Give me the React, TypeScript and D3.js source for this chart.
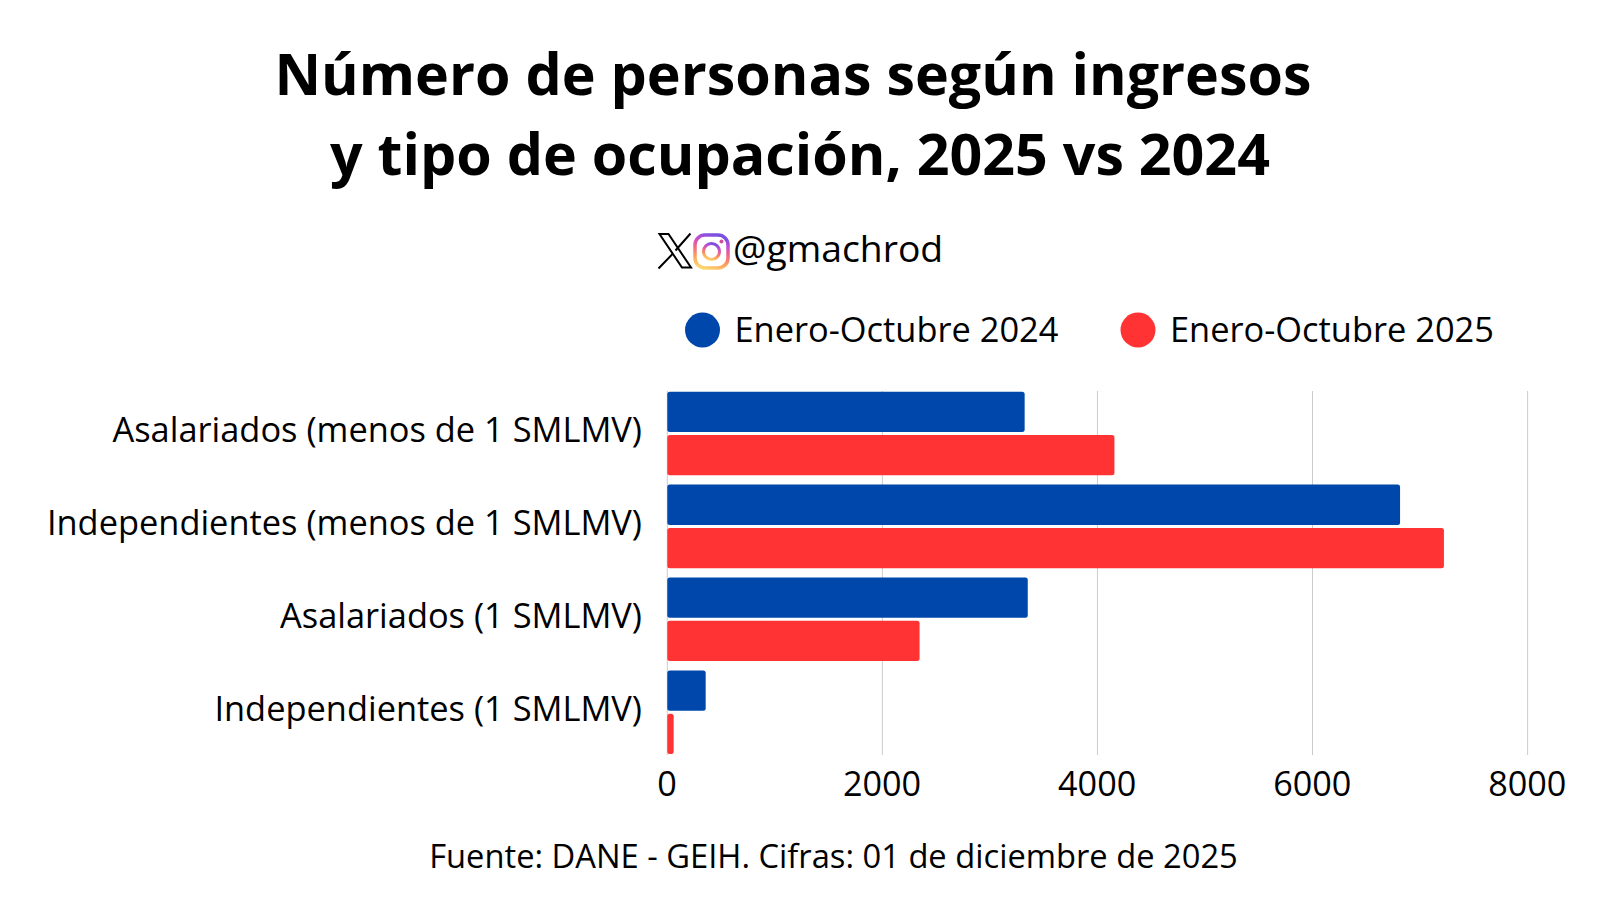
import { useEffect, useRef } from 'react';
import * as d3 from 'd3';

const categories = [
  'Asalariados (menos de 1 SMLMV)',
  'Independientes (menos de 1 SMLMV)',
  'Asalariados (1 SMLMV)',
  'Independientes (1 SMLMV)',
];
const seriesNames = ['Enero-Octubre 2024', 'Enero-Octubre 2025'];
const values2024 = [3323, 6814, 3352, 357];
const values2025 = [4158, 7222, 2346, 59];
const xTicks = [0, 2000, 4000, 6000, 8000];
const seriesColors = ['#0047AB', '#FF3333'];
const font = '"Open Sans", sans-serif';

export default function App() {
  const ref = useRef<SVGSVGElement | null>(null);
  useEffect(() => {
    const svg = d3.select(ref.current!);
    svg.selectAll('*').remove();
    svg.attr('viewBox', '0 0 1600 900').attr('font-family', font);
    svg.append('rect').attr('width', 1600).attr('height', 900).attr('fill', '#fff');

    // titulo
    const title = svg.append('g').attr('font-size', 57.35).attr('font-weight', 700).attr('fill', '#000').attr('text-anchor', 'middle');
    title.append('text').attr('x', 793).attr('y', 95).text('Número de personas según ingresos');
    title.append('text').attr('x', 800).attr('y', 175).text('y tipo de ocupación, 2025 vs 2024');

    // handle con iconos
    const defs = svg.append('defs');
    const grad = defs.append('linearGradient').attr('id', 'ig').attr('x1', '25%').attr('y1', '100%').attr('x2', '55%').attr('y2', '0%');
    [['0%', '#fdd66e'], ['30%', '#fb9a5c'], ['55%', '#f0648c'], ['80%', '#c04fd0'], ['100%', '#7b50e0']].forEach(([o, c]) => {
      grad.append('stop').attr('offset', o).attr('stop-color', c);
    });
    const xIcon = svg.append('g').attr('fill', 'none').attr('stroke', '#000').attr('stroke-width', 2);
    xIcon.append('path').attr('d', 'M659.5 234h9l22.5 33.5h-9z');
    xIcon.append('path').attr('d', 'M690.5 233.5L675.5 250.5M672.5 254L658.5 268.5');
    const ig = svg.append('g').attr('fill', 'none').attr('stroke', 'url(#ig)');
    ig.append('rect').attr('x', 695).attr('y', 235).attr('width', 33).attr('height', 33).attr('rx', 10).attr('stroke-width', 3.5);
    ig.append('circle').attr('cx', 711.5).attr('cy', 251.5).attr('r', 8).attr('stroke-width', 3);
    svg.append('circle').attr('cx', 721.5).attr('cy', 241.5).attr('r', 2).attr('fill', '#d0509c');
    svg.append('text').attr('x', 733).attr('y', 262).attr('font-size', 37.3).attr('fill', '#000').text('@gmachrod');

    // leyenda
    const legendX = [702.5, 1138];
    seriesNames.forEach((name, i) => {
      svg.append('circle').attr('cx', legendX[i]).attr('cy', 330).attr('r', 17.5).attr('fill', seriesColors[i]);
      svg.append('text').attr('x', legendX[i] + 32).attr('y', 342).attr('font-size', 34.4).attr('fill', '#000').text(name);
    });

    // escalas
    const x = d3.scaleLinear().domain([0, 8000]).range([667.3, 1527.6]);
    const y = d3.scaleBand<string>().domain(categories).range([391.7, 754]).paddingInner(0.1);
    const inner = d3.scaleBand<string>().domain(seriesNames).range([0, y.bandwidth()]).paddingInner(0.07);

    // rejilla
    svg.append('g').selectAll('line').data(xTicks).enter().append('line')
      .attr('x1', (d) => x(d)).attr('x2', (d) => x(d))
      .attr('y1', 391).attr('y2', 755)
      .attr('stroke', '#cccccc').attr('stroke-width', 1);

    // barras
    const groups = svg.append('g').selectAll('g').data(categories).enter().append('g')
      .attr('transform', (d) => `translate(0,${y(d)})`);
    groups.each(function (c, i) {
      const g = d3.select(this);
      [values2024[i], values2025[i]].forEach((v, s) => {
        g.append('rect')
          .attr('x', x(0)).attr('y', inner(seriesNames[s]) ?? 0)
          .attr('width', x(v) - x(0)).attr('height', inner.bandwidth())
          .attr('rx', 2.5).attr('fill', seriesColors[s]);
      });
      g.append('text')
        .attr('x', 642).attr('y', y.bandwidth() / 2 + 8.5)
        .attr('text-anchor', 'end').attr('font-size', 34.4).attr('fill', '#000').text(c);
    });

    // eje x
    const axis = svg.append('g').attr('transform', 'translate(-0.8,755)')
      .call(d3.axisBottom(x).tickValues(xTicks).tickFormat((d) => String(d)).tickSize(0).tickPadding(0));
    axis.select('.domain').remove();
    axis.selectAll('text').attr('font-size', 34.2).attr('font-family', font).attr('fill', '#000').attr('y', 41).attr('dy', 0);

    svg.append('text').attr('x', 833.5).attr('y', 868).attr('text-anchor', 'middle').attr('font-size', 32.7).attr('fill', '#000')
      .text('Fuente: DANE - GEIH. Cifras: 01 de diciembre de 2025');
  }, []);
  return <svg ref={ref} width={1600} height={900} style={{ position: 'fixed', left: 0, top: 0, display: 'block' }} />;
}
